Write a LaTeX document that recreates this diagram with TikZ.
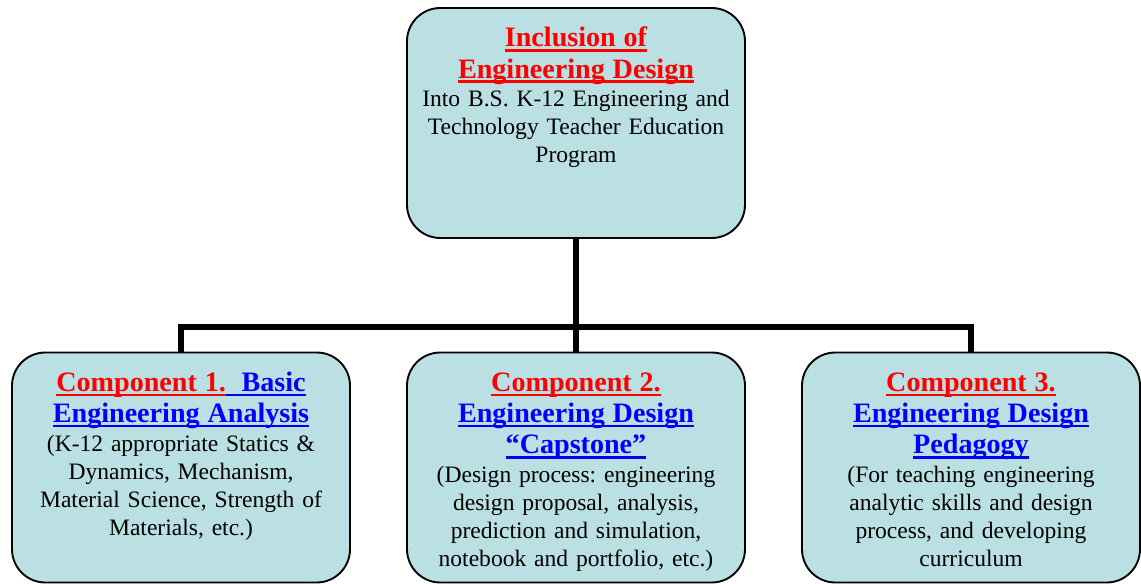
\documentclass[tikz,border=0pt]{standalone}
\usepackage{fontspec}
\setmainfont{Liberation Serif}
\definecolor{boxfill}{HTML}{BAE0E3}
\definecolor{headred}{HTML}{FF0000}
\definecolor{headblue}{HTML}{0000FF}
\newcommand{\ulbar}[1]{\setbox0\hbox{#1}\rlap{\rule[-4.2pt]{\wd0}{2.4pt}}\box0}
\newcommand{\headfont}{\fontsize{24pt}{23.9pt}\selectfont\bfseries}
\newcommand{\headtext}[2]{{\headfont\textcolor{#1}{\ulbar{#2}}}}
\frenchspacing

\begin{document}
\begin{tikzpicture}[
		compbox/.style={draw, line width=1.6pt, fill=boxfill, rounded corners=1cm,
			minimum width=10.14cm, text width=9.9cm, align=center,
			inner xsep=0.1cm, inner ysep=0pt, text height=1.17cm, text depth=5.73cm,
			font=\fontsize{20.1pt}{23.9pt}\selectfont},
		link/.style={line width=4.3pt}
	]
		%%%%% START %%%%%
		
		\useasboundingbox (0, 0) rectangle (34.23, 17.52);
		
		\node[compbox] (incl) at (17.28, 13.83) {\headtext{headred}{Inclusion of}\\[2.6pt]
			\headtext{headred}{Engineering Design}\\[0.8pt]
			Into B.S. K-12 Engineering and\\ Technology Teacher Education\\ Program};
		
		\node[compbox] (comp1) at (5.43, 3.495) {{\headfont\textcolor{headred}{\ulbar{Component 1.}}\textcolor{headblue}{\ulbar{\ \ Basic}}}\\[2.6pt]
			\headtext{headblue}{Engineering Analysis}\\[0.8pt]
			(K-12 appropriate Statics \&\\ Dynamics, Mechanism,\\ Material Science, Strength of\\ Materials, etc.)};
		
		\node[compbox] (comp2) at (17.28, 3.495) {\headtext{headred}{Component 2.}\\[2.6pt]
			\headtext{headblue}{Engineering Design}\\[2.6pt]
			\headtext{headblue}{“Capstone”}\\[0.8pt]
			(Design process: engineering\\ design proposal, analysis,\\ prediction and simulation,\\ notebook and portfolio, etc.)};
		
		\node[compbox] (comp3) at (29.13, 3.495) {\headtext{headred}{Component 3.}\\[2.6pt]
			\headtext{headblue}{Engineering Design}\\[2.6pt]
			\headtext{headblue}{Pedagogy}\\[0.8pt]
			(For teaching engineering\\ analytic skills and design\\ process, and developing\\ curriculum};
		
		\coordinate (hub) at (incl.south |- 0, 7.71);
		
		\draw[link] (incl.south) -- (hub);
		\draw[link] (comp1.north) |- (hub) -| (comp3.north);
		\draw[link] (hub) -- (comp2.north);
		
		%%%%% END %%%%%
	\end{tikzpicture}
\end{document}
